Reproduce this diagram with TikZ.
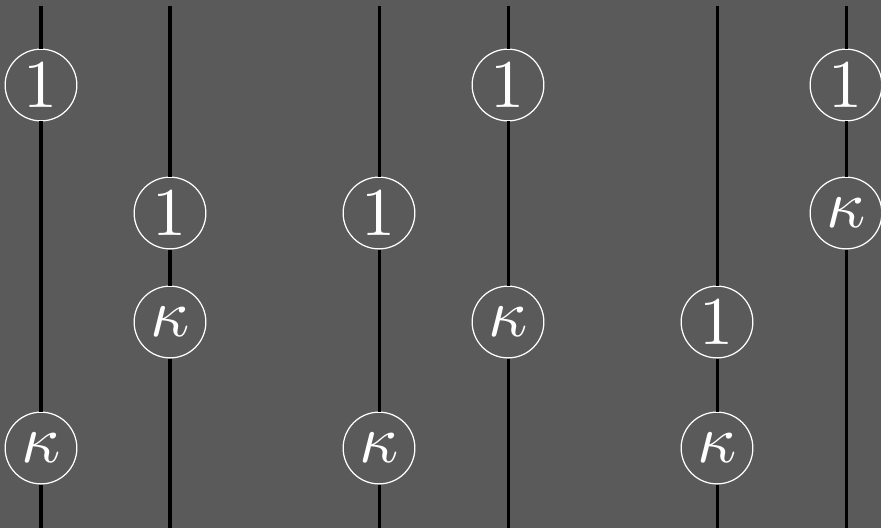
\documentclass[tikz,border=0pt]{standalone}
\usepackage{amsmath}
\usepackage{tikz}
\usepackage{xcolor}
\usetikzlibrary{positioning}

\definecolor{bg}{RGB}{90,90,90}

\begin{document}
\begin{tikzpicture}[x=0.1464pt, y=-0.1464pt,
    wire/.style={black, line width=0.44pt},
    bead/.style={circle, draw=white, line width=0.18pt, fill=bg, text=white,
                 minimum size=10.5pt, inner sep=0pt}]
    % Background
    \fill[bg] (0,0) rectangle (881,528);
    \useasboundingbox (0,0) rectangle (881,528);

    % Strand ends
    \foreach \x/\n in {41/a, 170/b, 379/c, 508/d, 717/e, 846/f} {
        \coordinate (top\n) at (\x,6);
        \coordinate (bot\n) at (\x,528);
    }

    % Beads
    \node[bead] (onea) at (41,85)   {$1$};
    \node[bead] (kapa) at (41,448)  {$\kappa$};
    \node[bead] (oneb) at (170,213) {$1$};
    \node[bead] (kapb) at (170,322) {$\kappa$};
    \node[bead] (onec) at (379,213) {$1$};
    \node[bead] (kapc) at (379,448) {$\kappa$};
    \node[bead] (oned) at (508,85)  {$1$};
    \node[bead] (kapd) at (508,322) {$\kappa$};
    \node[bead] (onee) at (717,322) {$1$};
    \node[bead] (kape) at (717,448) {$\kappa$};
    \node[bead] (onef) at (846,85)  {$1$};
    \node[bead] (kapf) at (846,213) {$\kappa$};

    % Strands
    \foreach \n in {a,b,c,d,e,f}
        \draw[wire] (top\n) -- (one\n) -- (kap\n) -- (bot\n);

\end{tikzpicture}
\end{document}
